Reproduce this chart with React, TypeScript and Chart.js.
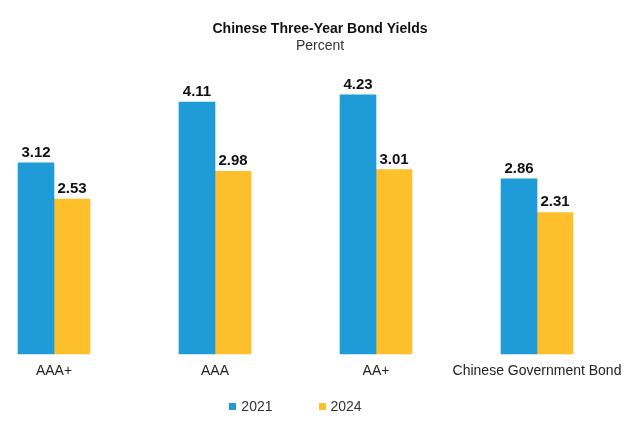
import React, { useEffect, useRef } from "react";
import { Chart, registerables } from "chart.js";

Chart.register(...registerables);

const categories = ["AAA+", "AAA", "AA+", "Chinese Government Bond"];
const seriesNames = ["2021", "2024"];
const yields2021 = [3.12, 4.11, 4.23, 2.86];
const yields2024 = [2.53, 2.98, 3.01, 2.31];
const seriesColors = ["#1f9bd7", "#fdbf2b"];
const titleText = "Chinese Three-Year Bond Yields";
const subtitleText = "Percent";
const yMax = 4.74;

const FONT = "'Liberation Sans', Arial, sans-serif";

const valueLabels = {
  id: "valueLabels",
  afterDatasetsDraw(chart: any) {
    const ctx = chart.ctx;
    ctx.save();
    ctx.font = `bold 15px ${FONT}`;
    ctx.fillStyle = "#111";
    ctx.textAlign = "center";
    ctx.textBaseline = "alphabetic";
    chart.data.datasets.forEach((ds: any, i: number) => {
      const meta = chart.getDatasetMeta(i);
      meta.data.forEach((el: any, j: number) => {
        ctx.fillText(Number(ds.data[j]).toFixed(2), el.x, el.y - 6);
      });
    });
    ctx.restore();
  },
};

export default function App() {
  const ref = useRef<HTMLCanvasElement | null>(null);
  useEffect(() => {
    if (!ref.current) return;
    Chart.defaults.font.family = FONT;
    const chart = new Chart(ref.current, {
      type: "bar",
      data: {
        labels: categories,
        datasets: [
          {
            label: seriesNames[0],
            data: yields2021,
            backgroundColor: seriesColors[0],
            barThickness: 36,
            clip: false,
          },
          {
            label: seriesNames[1],
            data: yields2024,
            backgroundColor: seriesColors[1],
            barThickness: 36,
            clip: false,
          },
        ],
      } as any,
      options: {
        animation: false,
        responsive: true,
        maintainAspectRatio: false,
        layout: { padding: 0 },
        scales: {
          x: {
            type: "category",
            offset: false,
            grid: { display: false, drawTicks: false },
            border: { display: false },
            ticks: {
              font: { size: 14 },
              color: "#222",
              padding: 9,
              maxRotation: 0,
              autoSkip: false,
            },
            afterFit: (s: any) => {
              s.height = 71;
            },
          },
          y: {
            type: "linear",
            min: 0,
            max: yMax,
            grid: { display: false },
            border: { display: false },
            ticks: { display: false },
            afterFit: (s: any) => {
              s.width = 54;
            },
          },
          y2: {
            type: "linear",
            position: "right",
            grid: { display: false },
            border: { display: false },
            ticks: { display: false },
            afterFit: (s: any) => {
              s.width = 103;
            },
          },
        },
        plugins: {
          title: {
            display: true,
            text: titleText,
            font: { size: 14, weight: "bold" },
            color: "#111",
            padding: { top: 21, bottom: 0 },
          },
          subtitle: {
            display: true,
            text: subtitleText,
            font: { size: 14 },
            color: "#333",
            padding: { top: 0, bottom: 9 },
          },
          legend: { display: false },
          tooltip: { enabled: false },
        },
      } as any,
      plugins: [valueLabels],
    });
    return () => chart.destroy();
  }, []);
  return (
    <div style={{ position: "absolute", left: 0, top: 0, width: 640, height: 425 }}>
      <canvas ref={ref} />
      <div
        style={{
          position: "absolute",
          left: 54,
          width: 483,
          top: 398,
          height: 16,
          display: "flex",
          justifyContent: "center",
          alignItems: "center",
          gap: 46,
          fontFamily: FONT,
          fontSize: 14,
          lineHeight: "16px",
          color: "#333",
        }}
      >
        {seriesNames.map((name, i) => (
          <div key={name} style={{ display: "flex", alignItems: "center" }}>
            <span
              style={{
                display: "inline-block",
                width: 7,
                height: 7,
                marginRight: 5,
                background: seriesColors[i],
              }}
            />
            <span>{name}</span>
          </div>
        ))}
      </div>
    </div>
  );
}
